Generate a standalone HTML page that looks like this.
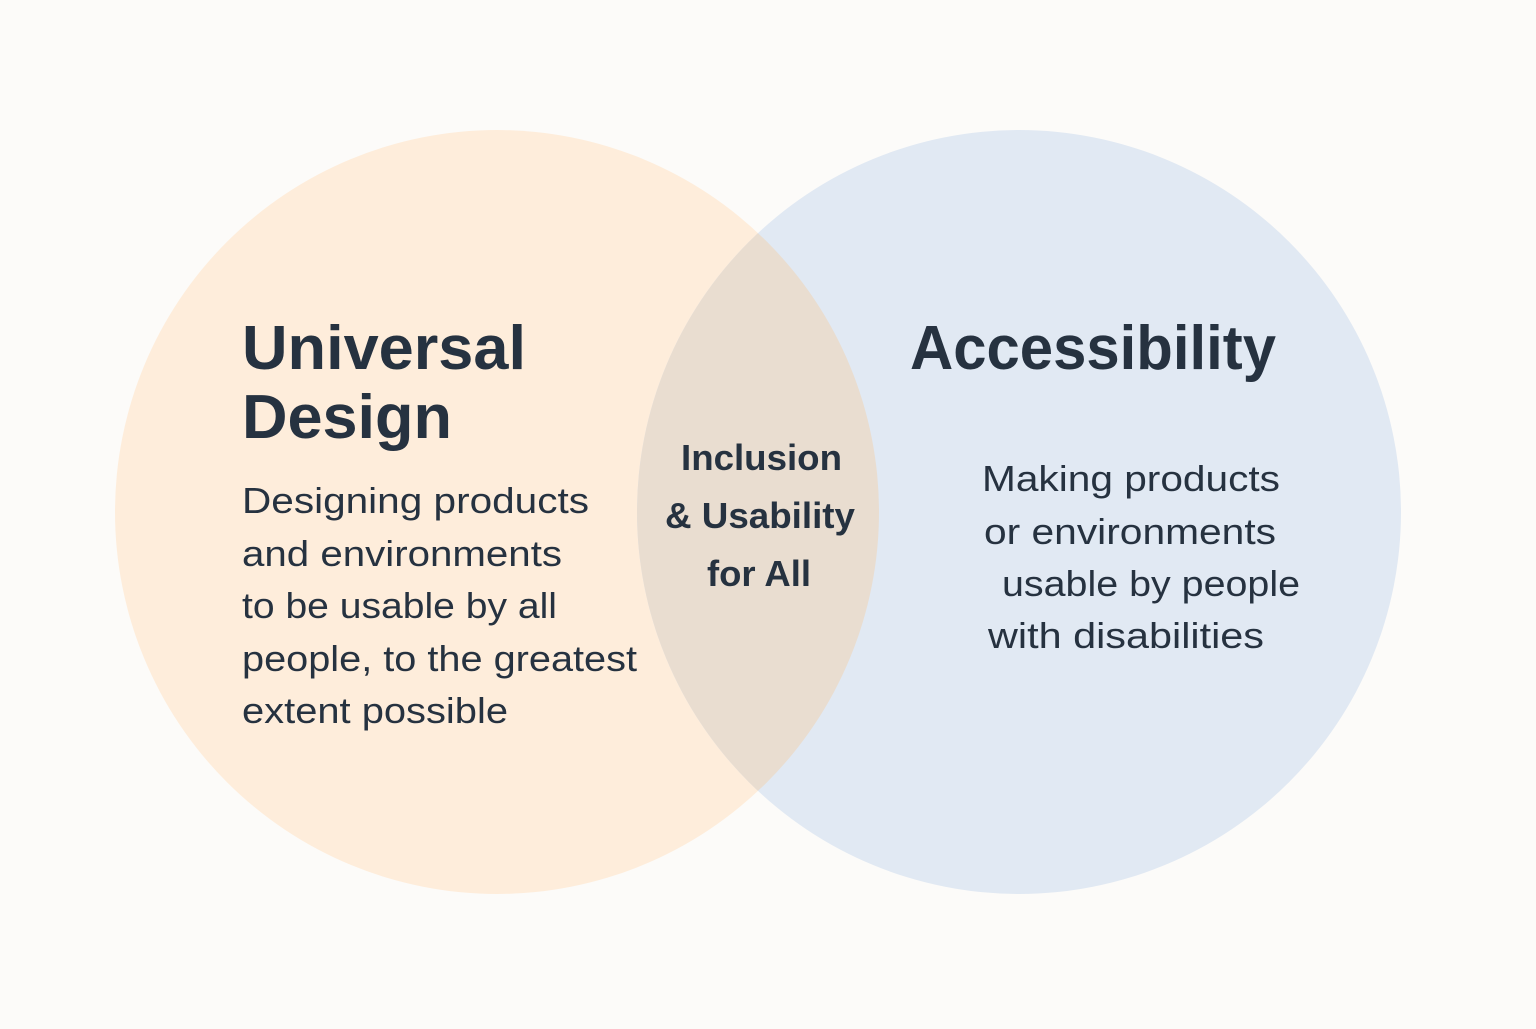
<!DOCTYPE html>
<html><head><meta charset="utf-8"><style>html,body{margin:0;padding:0;background:#fcfbf9}</style></head>
<body>
<svg width="1536" height="1024" viewBox="0 0 1536 1024" xmlns="http://www.w3.org/2000/svg" font-family="Liberation Sans, sans-serif" fill="#263240">
<rect width="1536" height="1024" fill="#fcfbf9"/>
<defs><clipPath id="cl"><circle cx="497" cy="512" r="382"/></clipPath></defs>
<circle cx="497" cy="512" r="382" fill="#feeddb"/>
<circle cx="1019" cy="512" r="382" fill="#e1e9f3"/>
<circle cx="1019" cy="512" r="382" fill="#e9ddd0" clip-path="url(#cl)"/>
<g font-weight="bold" font-size="62">
<text x="242" y="369" textLength="284" lengthAdjust="spacingAndGlyphs">Universal</text>
<text x="242" y="438" textLength="210" lengthAdjust="spacingAndGlyphs">Design</text>
<text x="910" y="369" textLength="366" lengthAdjust="spacingAndGlyphs">Accessibility</text>
</g>
<g font-size="36">
<text x="242" y="513" textLength="347" lengthAdjust="spacingAndGlyphs">Designing products</text>
<text x="242" y="566" textLength="320" lengthAdjust="spacingAndGlyphs">and environments</text>
<text x="242" y="618" textLength="315" lengthAdjust="spacingAndGlyphs">to be usable by all</text>
<text x="242" y="671" textLength="395" lengthAdjust="spacingAndGlyphs">people, to the greatest</text>
<text x="242" y="723" textLength="266" lengthAdjust="spacingAndGlyphs">extent possible</text>
<text x="982" y="491" textLength="298" lengthAdjust="spacingAndGlyphs">Making products</text>
<text x="984" y="544" textLength="292" lengthAdjust="spacingAndGlyphs">or environments</text>
<text x="1002" y="596" textLength="298" lengthAdjust="spacingAndGlyphs">usable by people</text>
<text x="988" y="648" textLength="276" lengthAdjust="spacingAndGlyphs">with disabilities</text>
</g>
<g font-size="36" font-weight="bold">
<text x="681" y="470" textLength="161" lengthAdjust="spacingAndGlyphs">Inclusion</text>
<text x="665" y="528" textLength="190" lengthAdjust="spacingAndGlyphs">&amp; Usability</text>
<text x="707" y="586" textLength="104" lengthAdjust="spacingAndGlyphs">for All</text>
</g>
</svg>
</body></html>
